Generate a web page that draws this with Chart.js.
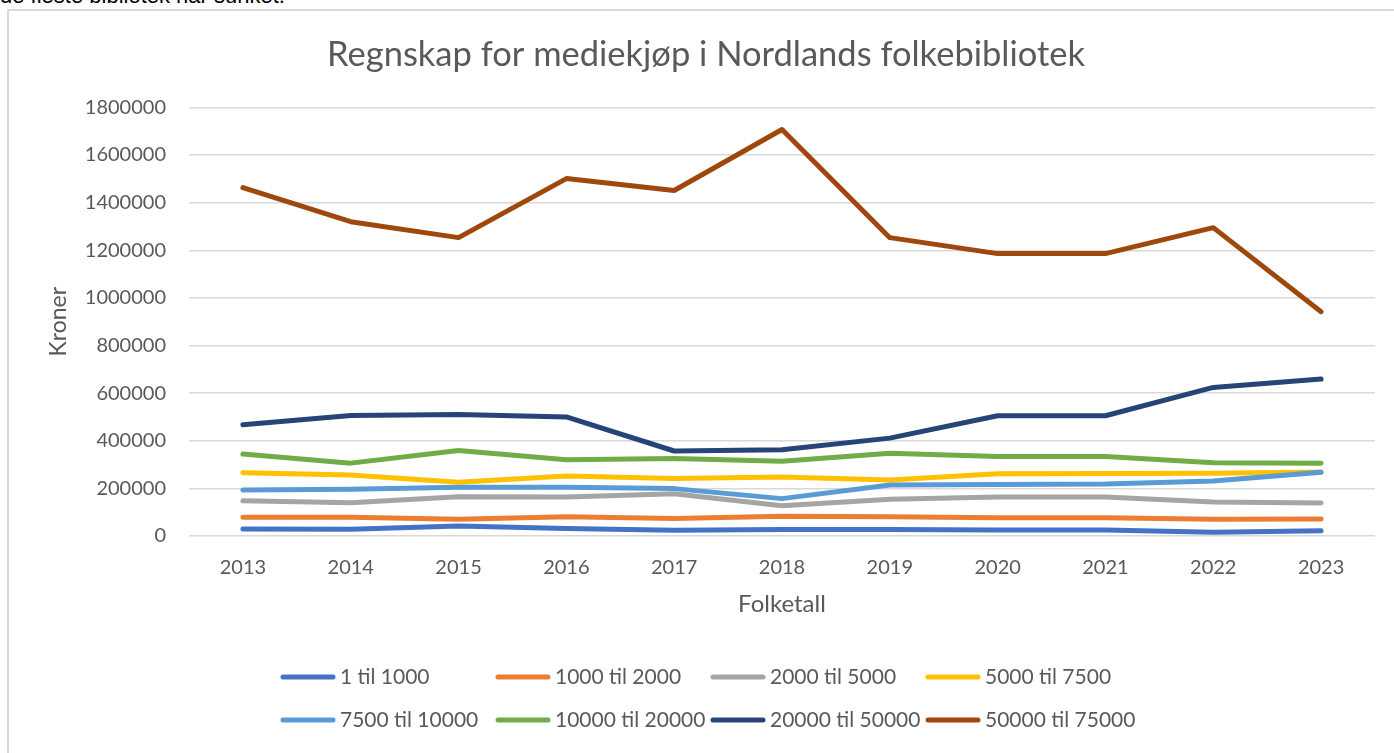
<!DOCTYPE html>
<html>
<head>
<meta charset="utf-8">
<script src="https://cdn.jsdelivr.net/npm/chart.js@4.4.1/dist/chart.umd.min.js"></script>
<style>
  html, body { margin: 0; padding: 0; background: #fff; overflow: hidden; }
  #topptekst { position: absolute; left: 0; top: -15px; font: 22px "Liberation Sans", Arial, sans-serif; line-height: 22px; color: #000; white-space: nowrap; }
  #ramme { position: absolute; left: 7px; top: 9px; width: 1420px; height: 780px; border: 2px solid #d9d9d9; box-sizing: border-box; }
  #grafico { position: absolute; left: 0; top: 0; }
</style>
</head>
<body>
<div id="topptekst">de fleste bibliotek har sunket.</div>
<div id="ramme"></div>
<canvas id="grafico" width="1394" height="753"></canvas>
<script>
const aar = ["2013","2014","2015","2016","2017","2018","2019","2020","2021","2022","2023"];

const serier = ["1 til 1000","1000 til 2000","2000 til 5000","5000 til 7500","7500 til 10000","10000 til 20000","20000 til 50000","50000 til 75000"];
const farger = ["#4472C4","#ED7D31","#A5A5A5","#FFC000","#5B9BD5","#70AD47","#264478","#9E480E"];

const s1til1000      = [29000, 28000, 42000, 32000, 24000, 27000, 27000, 25000, 25000, 16000, 22000];
const s1000til2000   = [79000, 79000, 70000, 81000, 73000, 83000, 81000, 77000, 77000, 70000, 71000];
const s2000til5000   = [148000, 140000, 165000, 164000, 177000, 127000, 154000, 164000, 164000, 143000, 139000];
const s5000til7500   = [266000, 256000, 226000, 252000, 241000, 248000, 235000, 261000, 262000, 264000, 269000];
const s7500til10000  = [193000, 196000, 205000, 205000, 199000, 157000, 214000, 216000, 218000, 231000, 268000];
const s10000til20000 = [344000, 306000, 359000, 320000, 325000, 314000, 348000, 334000, 334000, 308000, 306000];
const s20000til50000 = [467000, 506000, 510000, 500000, 357000, 362000, 411000, 505000, 505000, 624000, 659000];
const s50000til75000 = [1463000, 1320000, 1253000, 1501000, 1451000, 1707000, 1253000, 1186000, 1186000, 1295000, 942000];

const verdier = [s1til1000, s1000til2000, s2000til5000, s5000til7500, s7500til10000, s10000til20000, s20000til50000, s50000til75000];

const tekstfarge = "#595959";
const skrift = "Lato, 'Open Sans', sans-serif";

// legend in fixed columns, like the Excel one
const legendeRutenett = {
  id: "legendeRutenett",
  afterDraw(chart) {
    const ctx = chart.ctx;
    const startX = 283, kolonne = 215, linje = 50;
    const rader = [chart.height - 76, chart.height - 33];
    ctx.save();
    ctx.font = "21px " + skrift;
    ctx.textBaseline = "middle";
    ctx.textAlign = "left";
    chart.data.datasets.forEach((ds, i) => {
      const x = startX + (i % 4) * kolonne;
      const y = rader[Math.floor(i / 4)];
      ctx.strokeStyle = ds.borderColor;
      ctx.lineWidth = 5;
      ctx.lineCap = "round";
      ctx.beginPath();
      ctx.moveTo(x, y);
      ctx.lineTo(x + linje, y);
      ctx.stroke();
      ctx.fillStyle = tekstfarge;
      ctx.fillText(ds.label, x + linje + 7, y);
    });
    ctx.restore();
  }
};

new Chart(document.getElementById("grafico"), {
  type: "line",
  data: {
    labels: aar,
    datasets: serier.map((navn, i) => ({
      label: navn,
      data: verdier[i],
      borderColor: farger[i],
      backgroundColor: farger[i],
      borderWidth: 5,
      borderCapStyle: "round",
      borderJoinStyle: "round",
      pointRadius: 0,
      tension: 0,
      order: serier.length - i
    }))
  },
  options: {
    responsive: false,
    animation: false,
    layout: { padding: { left: 37, right: 19, top: 0, bottom: 130 } },
    plugins: {
      legend: { display: false },
      tooltip: { enabled: false },
      title: {
        display: true,
        text: "Regnskap for mediekjøp i Nordlands folkebibliotek",
        color: tekstfarge,
        font: { family: skrift, size: 34.5, weight: "normal" },
        padding: { top: 34, bottom: 32 }
      }
    },
    scales: {
      x: {
        offset: true,
        grid: { display: false },
        border: { display: false },
        ticks: { color: tekstfarge, font: { family: skrift, size: 20 }, padding: 12, maxRotation: 0 },
        title: {
          display: true,
          text: "Folketall",
          color: tekstfarge,
          font: { family: skrift, size: 24 },
          padding: { top: 10, bottom: 4 }
        },
        afterFit(scale) { scale.height = 87; }
      },
      y: {
        min: 0,
        max: 1800000,
        grid: { color: "#d9d9d9", lineWidth: 1.5, drawTicks: false },
        border: { display: false },
        ticks: {
          stepSize: 200000,
          color: tekstfarge,
          font: { family: skrift, size: 20 },
          padding: 23,
          callback: v => String(v)
        },
        title: {
          display: true,
          text: "Kroner",
          color: tekstfarge,
          font: { family: skrift, size: 23 },
          padding: { top: 8, bottom: 0 }
        },
        afterFit(scale) { scale.width = 152; }
      }
    }
  },
  plugins: [legendeRutenett]
});
</script>
</body>
</html>
